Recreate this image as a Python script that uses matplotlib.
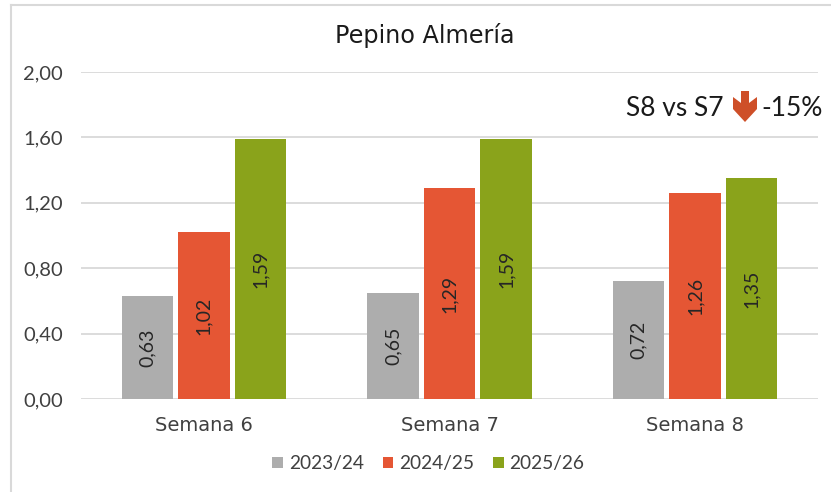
import matplotlib
matplotlib.use("Agg")
import matplotlib.pyplot as plt
from matplotlib.patches import Polygon
import numpy as np

plt.rcParams['font.family'] = ['Lato', 'DejaVu Sans']

categories = ['Semana 6', 'Semana 7', 'Semana 8']
series_names = ['2023/24', '2024/25', '2025/26']
values_2324 = [0.63, 0.65, 0.72]
values_2425 = [1.02, 1.29, 1.26]
values_2526 = [1.59, 1.59, 1.35]
yticks = [0.0, 0.4, 0.8, 1.2, 1.6, 2.0]
colors = ['#ADADAD', '#E55634', '#8AA31B']
all_values = [values_2324, values_2425, values_2526]

W, H = 831, 492
fig = plt.figure(figsize=(W/100, H/100), dpi=100, facecolor='white')
ax = fig.add_axes([81/W, 1-399/H, (818-81)/W, (399-72)/H])

x = np.arange(len(categories))
bw, step = 0.21, 0.23
txt = '#404040'
for i, (name, vals, c) in enumerate(zip(series_names, all_values, colors)):
    bars = ax.bar(x + (i-1)*step, vals, bw, color=c, label=name, zorder=3)
    for b, v in zip(bars, vals):
        ax.text(b.get_x()+b.get_width()/2, v/2, f'{v:.2f}'.replace('.', ','),
                rotation=90, ha='center', va='center', fontsize=14,
                color='#262626', zorder=4)

ax.set_xlim(-0.5, 2.5)
ax.set_ylim(0, 2.0)
ax.set_yticks(yticks)
ax.set_yticklabels([f'{t:.2f}'.replace('.', ',') for t in yticks], fontsize=14.5, color=txt)
ax.set_xticks(x)
ax.set_xticklabels(categories, fontsize=14, color=txt, family='DejaVu Sans')
ax.tick_params(length=0)
ax.tick_params(axis='x', pad=12)
ax.tick_params(axis='y', pad=13)
ax.grid(axis='y', color='#D9D9D9', lw=1.3, zorder=0)
ax.set_axisbelow(True)
for s in ax.spines.values():
    s.set_visible(False)

fig.text(425/W, 1-35/H, 'Pepino Almería', ha='center', va='center', fontsize=17.2,
         color='#1a1a1a', family='DejaVu Sans')
fig.text(626/W, 1-108/H, 'S8 vs S7', ha='left', va='center', fontsize=19, color='#1a1a1a')
fig.text(761/W, 1-108/H, '-15%', ha='left', va='center', fontsize=19, color='#1a1a1a')

# decorative down arrow
arrow_px = [(741, 91), (749, 91), (749, 103), (757, 97), (757, 109), (745, 122),
            (733, 109), (733, 97), (741, 103)]
fig.add_artist(Polygon([(px/W, 1-py/H) for px, py in arrow_px], closed=True,
                       transform=fig.transFigure, facecolor='#CE4F28', edgecolor='none'))

# chart frame (left and top only, as cropped)
fig.add_artist(plt.Line2D([10.5/W, 10.5/W], [0, 1-5/H], color='#D9D9D9', lw=1.5))
fig.add_artist(plt.Line2D([10.5/W, 1], [1-5/H, 1-5/H], color='#D9D9D9', lw=1.5))

handles, labels = ax.get_legend_handles_labels()
fig.legend(handles, labels, loc='center', bbox_to_anchor=(428.5/W, 1-464/H), ncol=3,
           frameon=False, fontsize=13.8, labelcolor=txt, handlelength=0.55, handleheight=0.55,
           handletextpad=0.3, columnspacing=1.0)

fig.savefig('out.png', dpi=100)
